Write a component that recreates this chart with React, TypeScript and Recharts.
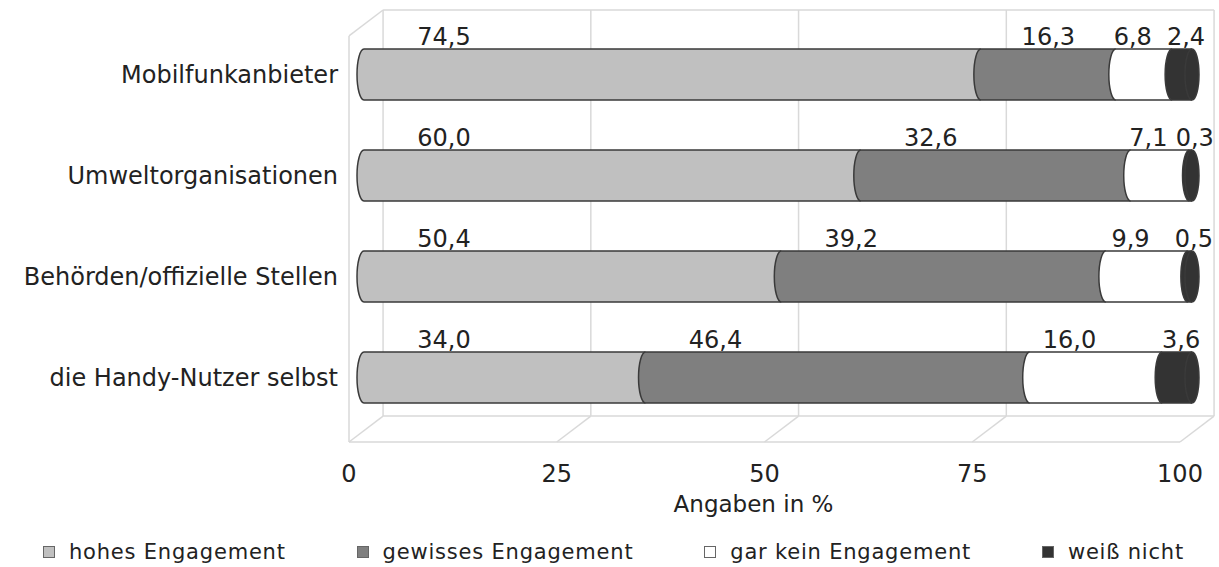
import { Bar, BarChart, LabelList, Legend, ReferenceLine, Scatter, ScatterChart, XAxis, YAxis } from 'recharts'

const categories = [
  'Mobilfunkanbieter',
  'Umweltorganisationen',
  'Behörden/offizielle Stellen',
  'die Handy-Nutzer selbst',
]
const hohes = [74.5, 60.0, 50.4, 34.0]
const gewisses = [16.3, 32.6, 39.2, 46.4]
const garKein = [6.8, 7.1, 9.9, 16.0]
const weissNicht = [2.4, 0.3, 0.5, 3.6]
const xTicks = [0, 25, 50, 75, 100]

const series = [
  { key: 'hohes', name: 'hohes Engagement', fill: '#c0c0c0' },
  { key: 'gewisses', name: 'gewisses Engagement', fill: '#7f7f7f' },
  { key: 'garKein', name: 'gar kein Engagement', fill: '#ffffff' },
  { key: 'weissNicht', name: 'weiß nicht', fill: '#333333' },
]

const data = categories.map((name, i) => ({
  name,
  hohes: hohes[i],
  gewisses: gewisses[i],
  garKein: garKein[i],
  weissNicht: weissNicht[i],
}))

// tick positions on the floor's front edge (anchor the frame scales)
const floorTicks = xTicks.map((t) => ({ x: t, y: 0 }))

const W = 1219
const H = 567
const FONT = '"DejaVu Sans", sans-serif'
const TEXT = '#222'
const STROKE = '#3a3a3a'
const FRAME = '#d9d9d9'
// pseudo-3D frame: depth offset in x-axis units / y-axis units
const DEPTH = 4.1
const FLOOR = 6

const fmt = (v: number) => v.toFixed(1).replace('.', ',')

function Cylinder(props: any) {
  const { x, y, width, height, fill, cap } = props
  const rx = 7
  const ry = height / 2
  const body = `M${x},${y} L${x + width},${y} L${x + width},${y + height} L${x},${y + height} A${rx},${ry} 0 0 1 ${x},${y} Z`
  const edge = `M${x + width},${y} L${x},${y} A${rx},${ry} 0 0 0 ${x},${y + height} L${x + width},${y + height}`
  return (
    <g>
      <path d={body} fill={fill} />
      <path d={edge} fill="none" stroke={STROKE} strokeWidth={1.5} />
      {cap && (
        <ellipse cx={x + width} cy={y + ry} rx={rx} ry={ry} fill={fill} stroke={STROKE} strokeWidth={1.5} />
      )}
    </g>
  )
}

function valueLabel(idx: number) {
  return (p: any) => {
    const { x, y, width, value } = p
    let cx = x + width / 2
    if (idx === 0) cx = x + 80
    if (idx === 1) cx = x + Math.min(width / 2, 70)
    if (idx === 2) cx = x + width * 0.3
    if (idx === 3) cx = x + width / 2 + 4
    return (
      <text x={cx} y={y - 4} textAnchor="middle" fontSize={24} fill={TEXT} fontFamily={FONT}>
        {fmt(Number(value))}
      </text>
    )
  }
}

function LegendRow() {
  return (
    <div
      style={{
        display: 'flex',
        justifyContent: 'space-between',
        alignItems: 'center',
        height: 30,
        padding: '0 30px 0 43px',
        fontFamily: FONT,
        fontSize: 21,
        letterSpacing: 0.8,
        color: TEXT,
      }}
    >
      {series.map((s) => (
        <span key={s.key} style={{ display: 'flex', alignItems: 'center' }}>
          <span
            style={{
              display: 'inline-block',
              width: 10,
              height: 10,
              background: s.fill,
              border: '1px solid #666',
              marginRight: 14,
            }}
          />
          {s.name}
        </span>
      ))}
    </div>
  )
}

// back layer: 3D frame, front axis ticks and title
function Frame() {
  const line = { stroke: FRAME, strokeWidth: 1.5, ifOverflow: 'visible' as const }
  return (
    <ScatterChart width={W} height={H} margin={{ top: 10, right: 5, bottom: 30, left: 349 }} style={{ fontFamily: FONT }}>
      <XAxis
        type="number"
        dataKey="x"
        domain={[0, 100]}
        allowDataOverflow
        ticks={xTicks}
        padding={{ left: 0, right: 34 }}
        axisLine={false}
        tickLine={false}
        tickSize={0}
        tickMargin={23}
        height={95}
        tick={{ fill: TEXT, fontSize: 24 }}
        label={{ value: 'Angaben in %', position: 'insideBottom', offset: 25, dx: -28, fill: TEXT, fontSize: 23 }}
      />
      <YAxis type="number" dataKey="y" domain={[0, 100]} allowDataOverflow hide />
      {xTicks.map((t) => (
        <ReferenceLine key={`wall-${t}`} {...line} segment={[{ x: t + DEPTH, y: FLOOR }, { x: t + DEPTH, y: 100 }]} />
      ))}
      {xTicks.map((t) => (
        <ReferenceLine key={`floor-${t}`} {...line} segment={[{ x: t, y: 0 }, { x: t + DEPTH, y: FLOOR }]} />
      ))}
      <ReferenceLine {...line} segment={[{ x: DEPTH, y: 100 }, { x: 100 + DEPTH, y: 100 }]} />
      <ReferenceLine {...line} segment={[{ x: DEPTH, y: FLOOR }, { x: 100 + DEPTH, y: FLOOR }]} />
      <ReferenceLine {...line} segment={[{ x: 0, y: 0 }, { x: 100, y: 0 }]} />
      <ReferenceLine {...line} segment={[{ x: 0, y: 0 }, { x: 0, y: 100 - FLOOR }]} />
      <ReferenceLine {...line} segment={[{ x: 0, y: 100 - FLOOR }, { x: DEPTH, y: 100 }]} />
      <Scatter data={floorTicks} fill="none" shape={() => <g />} isAnimationActive={false} />
    </ScatterChart>
  )
}

export default function App() {
  return (
    <div style={{ position: 'absolute', left: 0, top: 0, width: W, height: H, background: '#fff' }}>
      <div style={{ position: 'absolute', left: 0, top: 0 }}>
        <Frame />
      </div>
      <div style={{ position: 'absolute', left: 0, top: 0 }}>
        <BarChart
          width={W}
          height={H}
          data={data}
          layout="vertical"
          margin={{ top: 10, right: 5, bottom: 95, left: 0 }}
          style={{ fontFamily: FONT }}
        >
          <XAxis type="number" domain={[0, 100]} hide padding={{ left: 15, right: 22 }} />
          <YAxis
            type="category"
            dataKey="name"
            width={349}
            interval={0}
            axisLine={false}
            tickLine={false}
            tickSize={0}
            tickMargin={11}
            padding={{ top: 14, bottom: 14 }}
            tick={{ fill: TEXT, fontSize: 24 }}
          />
          {series.map((s, i) => (
            <Bar
              key={s.key}
              dataKey={s.key}
              name={s.name}
              stackId="a"
              fill={s.fill}
              barSize={51}
              isAnimationActive={false}
              shape={(p: any) => <Cylinder {...p} cap={i === series.length - 1} />}
            >
              <LabelList dataKey={s.key} content={valueLabel(i)} />
            </Bar>
          ))}
          <Legend verticalAlign="bottom" wrapperStyle={{ top: 537, bottom: 'auto' }} content={() => <LegendRow />} />
        </BarChart>
      </div>
    </div>
  )
}
